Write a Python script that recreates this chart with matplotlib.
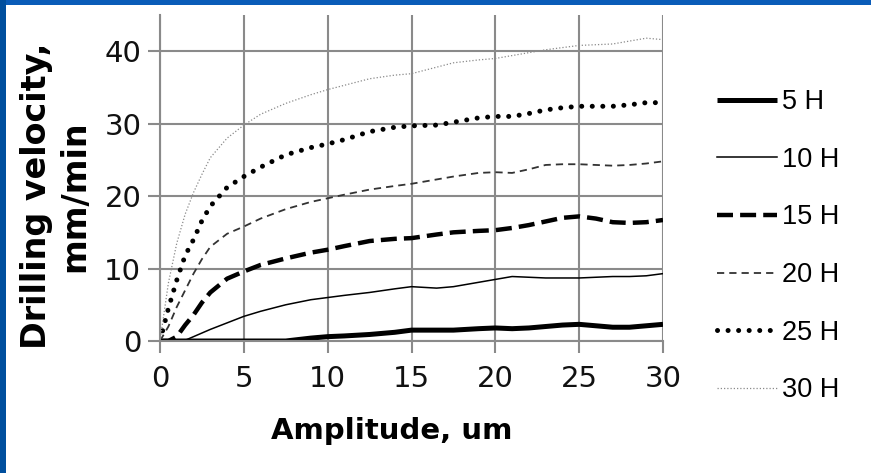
import matplotlib
matplotlib.use("Agg")
import matplotlib.pyplot as plt
from matplotlib.patches import Rectangle

# values
amplitude = [0, 0.5, 1, 1.5, 2, 2.5, 3, 4, 5, 6, 7.5, 9, 10, 11, 12.5, 14, 15,
             16.5, 17.5, 19, 20, 21, 22, 23, 24, 25, 26, 27, 28, 29, 30]
v5 = [0, 0, 0, 0, 0, 0, 0, 0, 0, 0, 0, 0.4, 0.6, 0.7, 0.9, 1.2, 1.5,
      1.5, 1.5, 1.7, 1.8, 1.7, 1.8, 2.0, 2.2, 2.3, 2.1, 1.9, 1.9, 2.1, 2.3]
v10 = [0, 0, 0, 0.1, 0.6, 1.1, 1.6, 2.5, 3.4, 4.1, 5.0, 5.7, 6.0, 6.3, 6.7, 7.2, 7.5,
       7.3, 7.5, 8.1, 8.5, 8.9, 8.8, 8.7, 8.7, 8.7, 8.8, 8.9, 8.9, 9.0, 9.3]
v15 = [0, 0, 0.6, 2.2, 3.6, 5.3, 6.7, 8.6, 9.6, 10.5, 11.4, 12.2, 12.6, 13.1, 13.8, 14.1, 14.2,
       14.7, 15.0, 15.2, 15.3, 15.6, 16.0, 16.5, 17.0, 17.2, 16.9, 16.4, 16.3, 16.4, 16.7]
v20 = [0, 2.0, 4.7, 7.0, 9.3, 11.3, 13.0, 14.8, 15.8, 16.9, 18.2, 19.2, 19.7, 20.2, 20.9, 21.4, 21.7,
       22.3, 22.7, 23.2, 23.3, 23.2, 23.7, 24.3, 24.4, 24.4, 24.3, 24.2, 24.3, 24.5, 24.8]
v25 = [0, 4.5, 8.4, 11.8, 14.0, 16.6, 18.6, 21.2, 22.7, 24.0, 25.7, 26.7, 27.2, 27.8, 28.9, 29.5, 29.7,
       29.8, 30.2, 30.8, 31.0, 31.0, 31.4, 31.9, 32.2, 32.4, 32.4, 32.4, 32.6, 32.9, 32.9]
v30 = [0, 8.0, 13.5, 17.5, 20.5, 23.0, 25.3, 28.0, 29.8, 31.3, 32.8, 34.0, 34.7, 35.3, 36.2, 36.7, 36.9,
       37.8, 38.4, 38.8, 39.0, 39.4, 39.8, 40.2, 40.5, 40.8, 40.9, 41.0, 41.4, 41.8, 41.6]
labels = ["5 H", "10 H", "15 H", "20 H", "25 H", "30 H"]
xticks = [0, 5, 10, 15, 20, 25, 30]
yticks = [0, 10, 20, 30, 40]

GRID = "#8a8a8a"
W, H = 871, 473

fig = plt.figure(figsize=(W / 100, H / 100), dpi=100)
fig.patch.set_facecolor("white")
# blue slide frame, top and left
fig.patches.append(Rectangle((0, 1 - 5 / H), 1, 5 / H, transform=fig.transFigure,
                             fc="#0a5cb8", ec="none", zorder=0))
fig.patches.append(Rectangle((0, 0), 6 / W, 1, transform=fig.transFigure,
                             fc="#004f9e", ec="none", zorder=0))

ax = fig.add_axes([160 / W, 132 / H, 503 / W, 326 / H])
ax.set_xlim(0, 30)
ax.set_ylim(0, 45)
ax.set_xticks(xticks)
ax.set_yticks(yticks)
ax.grid(True, color=GRID, lw=1.5)
ax.set_axisbelow(True)
for s in ("top", "right"):
    ax.spines[s].set_visible(False)
for s in ("left", "bottom"):
    ax.spines[s].set_color(GRID)
    ax.spines[s].set_linewidth(1.5)
ax.tick_params(direction="out", length=8.5, width=1.5, color=GRID,
               labelsize=21, labelcolor="#111111")
ax.tick_params(axis="x", pad=9)
ax.tick_params(axis="y", pad=5)

ax.plot(amplitude, v5, color="black", lw=3.6, solid_capstyle="butt", label=labels[0])
ax.plot(amplitude, v10, color="black", lw=1.1, label=labels[1])
ax.plot(amplitude, v15, color="black", lw=3.2, ls=(0, (3.6, 1.6)),
        dash_capstyle="butt", label=labels[2])
ax.plot(amplitude, v20, color="#333333", lw=1.3, ls=(0, (4.0, 2.8)), label=labels[3])
ax.plot(amplitude, v25, color="black", lw=3.6, ls=(0, (0.01, 2.1)),
        dash_capstyle="round", label=labels[4])
ax.plot(amplitude, v30, color="#8a8a8a", lw=0.9, ls=(0, (1, 1.6)), label=labels[5])

ax.legend(loc="upper left", bbox_to_anchor=(717 / W, 1 - 89 / H),
          bbox_transform=fig.transFigure, frameon=False,
          prop={"family": "Liberation Sans", "size": 19.5},
          handlelength=2.2, handletextpad=0.2, labelspacing=1.17,
          borderpad=0, borderaxespad=0)

fig.text(56 / W, 1 - 196 / H, "Drilling velocity,\nmm/min", rotation=90,
         ha="center", va="center", fontsize=24, fontweight="bold",
         linespacing=1.2, multialignment="center")
fig.text(392 / W, 1 - 431 / H, "Amplitude, um", ha="center", va="center",
         fontsize=21, fontweight="bold")

fig.savefig("out.png", dpi=100)
